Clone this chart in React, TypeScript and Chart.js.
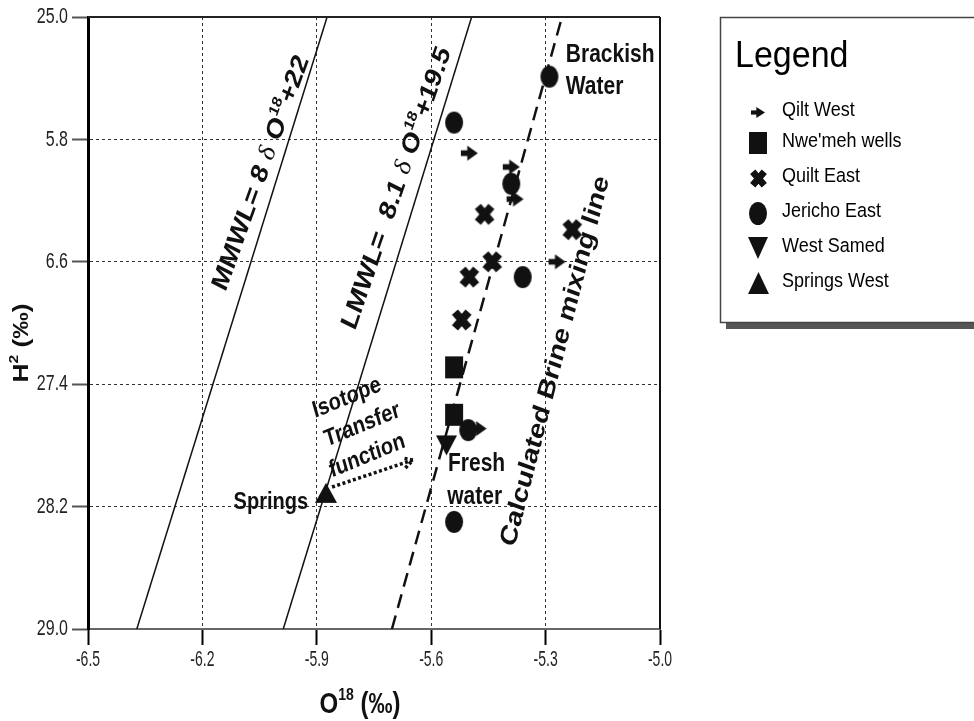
import React, { useEffect, useRef } from 'react';
import { Chart, registerables } from 'chart.js';

Chart.register(...registerables);

// ---------------- data ----------------
const xTickValues = [-6.5, -6.2, -5.9, -5.6, -5.3, -5.0];
const xTickLabels = ['-6.5', '-6.2', '-5.9', '-5.6', '-5.3', '-5.0'];
const yTickValues = [-29.0, -28.2, -27.4, -26.6, -25.8, -25.0];
const yTickLabels = ['29.0', '28.2', '27.4', '6.6', '5.8', '25.0'];

const seriesNames = ['Qilt West', "Nwe'meh wells", 'Quilt East', 'Jericho East', 'West Samed', 'Springs West'];

const qiltWestX = [-5.50, -5.39, -5.38, -5.27, -5.477];
const qiltWestY = [-25.89, -25.98, -26.19, -26.60, -27.69];
const nwemehX = [-5.54, -5.54];
const nwemehY = [-27.29, -27.60];
const quiltEastX = [-5.46, -5.23, -5.44, -5.50, -5.52];
const quiltEastY = [-26.29, -26.39, -26.60, -26.70, -26.98];
const jerichoEastX = [-5.29, -5.54, -5.39, -5.36, -5.503, -5.54];
const jerichoEastY = [-25.39, -25.69, -26.09, -26.70, -27.70, -28.30];
const westSamedX = [-5.56];
const westSamedY = [-27.80];
const springsWestX = [-5.876];
const springsWestY = [-28.11];

const mmwlX = [-6.372, -5.873];
const mmwlY = [-29.0, -25.0];
const lmwlX = [-5.988, -5.494];
const lmwlY = [-29.0, -25.0];
const brineX = [-5.703, -5.257];
const brineY = [-29.0, -25.0];
const transferX = [-5.86, -5.648];
const transferY = [-28.072, -27.895];

// ---------------- helpers ----------------
const F = '"Liberation Sans", Arial, Helvetica, sans-serif';
const SERIF = '"Liberation Serif", "DejaVu Serif", serif';
const INK = '#111';

type Seg = { t: string; font: string; dy?: number };

function drawSegs(
  ctx: CanvasRenderingContext2D,
  segs: Seg[],
  x: number,
  y: number,
  opts: { angle?: number; sy?: number; align?: 'left' | 'center' | 'right'; color?: string } = {}
) {
  const { angle = 0, sy = 1.2, align = 'center', color = INK } = opts;
  ctx.save();
  ctx.translate(x, y);
  ctx.scale(1, sy);
  if (angle) ctx.rotate((angle * Math.PI) / 180);
  ctx.fillStyle = color;
  ctx.textBaseline = 'middle';
  ctx.textAlign = 'left';
  let total = 0;
  for (const s of segs) {
    ctx.font = s.font;
    total += ctx.measureText(s.t).width;
  }
  let cx = align === 'left' ? 0 : align === 'right' ? -total : -total / 2;
  for (const s of segs) {
    ctx.font = s.font;
    ctx.fillText(s.t, cx, s.dy || 0);
    cx += ctx.measureText(s.t).width;
  }
  ctx.restore();
}

function makeMarker(kind: string, w: number, h: number): HTMLCanvasElement {
  const c = document.createElement('canvas');
  c.width = Math.ceil(w) + 2;
  c.height = Math.ceil(h) + 2;
  const g = c.getContext('2d') as CanvasRenderingContext2D;
  g.fillStyle = INK;
  g.strokeStyle = INK;
  g.translate(1, 1);
  switch (kind) {
    case 'circle':
      g.beginPath();
      g.ellipse(w / 2, h / 2, w / 2, h / 2, 0, 0, Math.PI * 2);
      g.fill();
      break;
    case 'square':
      g.fillRect(0, 0, w, h);
      break;
    case 'triUp':
      g.beginPath();
      g.moveTo(w / 2, 0);
      g.lineTo(w, h);
      g.lineTo(0, h);
      g.closePath();
      g.fill();
      break;
    case 'triDown':
      g.beginPath();
      g.moveTo(0, 0);
      g.lineTo(w, 0);
      g.lineTo(w / 2, h);
      g.closePath();
      g.fill();
      break;
    case 'cross': {
      const lw = Math.min(w, h) * 0.4;
      g.lineWidth = lw;
      g.lineCap = 'butt';
      const p = lw * 0.4;
      g.beginPath();
      g.moveTo(p, p);
      g.lineTo(w - p, h - p);
      g.moveTo(w - p, p);
      g.lineTo(p, h - p);
      g.stroke();
      break;
    }
    case 'arrow': {
      const t = h * 0.38;
      g.fillRect(0, h / 2 - t / 2, w * 0.55, t);
      g.beginPath();
      g.moveTo(w * 0.38, 0);
      g.lineTo(w, h / 2);
      g.lineTo(w * 0.38, h);
      g.closePath();
      g.fill();
      break;
    }
  }
  return c;
}

const pts = (xs: number[], ys: number[]) => xs.map((x, i) => ({ x, y: ys[i] }));

// ---------------- plugins ----------------
const annotationsPlugin = {
  id: 'annotations',
  afterDatasetsDraw(chart: any) {
    const ctx: CanvasRenderingContext2D = chart.ctx;
    const xs = chart.scales.x;
    const ys = chart.scales.y;
    const a = chart.chartArea;
    const px = (v: number) => xs.getPixelForValue(v);
    const py = (v: number) => ys.getPixelForValue(v);
    const B = (n: number) => `bold ${n}px ${F}`;

    // frame top / right
    ctx.save();
    ctx.strokeStyle = '#222';
    ctx.lineWidth = 2;
    ctx.beginPath();
    ctx.moveTo(a.left, a.top);
    ctx.lineTo(a.right, a.top);
    ctx.stroke();
    ctx.strokeStyle = INK;
    ctx.beginPath();
    ctx.moveTo(a.right, a.top);
    ctx.lineTo(a.right, a.bottom);
    ctx.stroke();
    ctx.restore();

    // isotope transfer arrow (dotted)
    const x1 = px(transferX[0]), y1 = py(transferY[0]);
    const x2 = px(transferX[1]), y2 = py(transferY[1]);
    ctx.save();
    ctx.strokeStyle = INK;
    ctx.lineWidth = 3.5;
    ctx.setLineDash([3, 2.5]);
    ctx.beginPath();
    ctx.moveTo(x1, y1);
    ctx.lineTo(x2, y2);
    const ang = Math.atan2(y2 - y1, x2 - x1);
    const hl = 11;
    ctx.moveTo(x2 - hl * Math.cos(ang - 0.5), y2 - hl * Math.sin(ang - 0.5));
    ctx.lineTo(x2, y2);
    ctx.lineTo(x2 - hl * Math.cos(ang + 0.5), y2 - hl * Math.sin(ang + 0.5));
    ctx.stroke();
    ctx.restore();

    // equation labels
    drawSegs(
      ctx,
      [
        { t: 'MMWL= 8 ', font: B(24) },
        { t: 'δ', font: `24px ${SERIF}` },
        { t: ' O', font: B(24) },
        { t: '18', font: B(14), dy: -8 },
        { t: '+22', font: B(24) },
      ],
      px(-6.046), py(-26.02), { angle: -66.7 }
    );
    drawSegs(
      ctx,
      [
        { t: 'LMWL=  8.1 ', font: B(24) },
        { t: 'δ', font: `24px ${SERIF}` },
        { t: ' O', font: B(24) },
        { t: '18', font: B(14), dy: -8 },
        { t: '+19.5', font: B(24) },
      ],
      px(-5.69), py(-26.12), { angle: -67.6 }
    );
    drawSegs(ctx, [{ t: 'Calculated Brine mixing line', font: B(24) }], px(-5.274), py(-27.25), { angle: -72.9 });

    drawSegs(ctx, [{ t: 'Isotope', font: B(20) }], px(-5.821), py(-27.49), { angle: -19 });
    drawSegs(ctx, [{ t: 'Transfer', font: B(20) }], px(-5.781), py(-27.667), { angle: -19 });
    drawSegs(ctx, [{ t: 'function', font: B(20) }], px(-5.768), py(-27.869), { angle: -19 });

    drawSegs(ctx, [{ t: 'Brackish', font: B(21) }], px(-5.247), py(-25.248), { align: 'left' });
    drawSegs(ctx, [{ t: 'Water', font: B(21) }], px(-5.247), py(-25.458), { align: 'left' });
    drawSegs(ctx, [{ t: 'Fresh', font: B(21) }], px(-5.556), py(-27.92), { align: 'left' });
    drawSegs(ctx, [{ t: 'water', font: B(21) }], px(-5.558), py(-28.137), { align: 'left' });
    drawSegs(ctx, [{ t: 'Springs', font: B(20) }], px(-5.923), py(-28.17), { align: 'right' });
  },
  afterDraw(chart: any) {
    const ctx: CanvasRenderingContext2D = chart.ctx;
    const xs = chart.scales.x;
    const ys = chart.scales.y;
    const a = chart.chartArea;

    // tick labels
    yTickValues.forEach((v, i) => {
      drawSegs(ctx, [{ t: yTickLabels[i], font: `16px ${F}` }], a.left - 20, ys.getPixelForValue(v), {
        sy: 1.4,
        align: 'right',
        color: '#222',
      });
    });
    xTickValues.forEach((v, i) => {
      drawSegs(ctx, [{ t: xTickLabels[i], font: `14px ${F}` }], xs.getPixelForValue(v), a.bottom + 31, {
        sy: 1.6,
        color: '#222',
      });
    });

    // axis titles
    drawSegs(
      ctx,
      [
        { t: 'O', font: `bold 24px ${F}` },
        { t: '18', font: `bold 14px ${F}`, dy: -8 },
        { t: ' (‰)', font: `bold 24px ${F}` },
      ],
      a.left + 272, a.bottom + 76
    );
    drawSegs(
      ctx,
      [
        { t: 'H', font: `bold 22px ${F}` },
        { t: '2', font: `bold 13px ${F}`, dy: -8 },
        { t: ' (‰)', font: `bold 22px ${F}` },
      ],
      22, 343, { angle: -90 }
    );

    // legend
    const lx = 720, ly = 17, lw = 270, lh = 305;
    ctx.save();
    ctx.fillStyle = '#555';
    ctx.fillRect(lx + 6, ly + lh, lw, 7);
    ctx.fillStyle = '#fff';
    ctx.fillRect(lx, ly, lw, lh);
    ctx.strokeStyle = '#444';
    ctx.lineWidth = 1.5;
    ctx.strokeRect(lx + 0.5, ly + 0.5, lw, lh);
    ctx.restore();
    drawSegs(ctx, [{ t: 'Legend', font: `34px ${F}` }], 735, 57, { sy: 1.1, align: 'left', color: '#000' });
    const rows = [110, 141, 176, 211, 246, 281];
    let r = 0;
    chart.data.datasets.forEach((ds: any) => {
      if (!ds.legendMarker) return;
      const yRow = rows[r++];
      const m: HTMLCanvasElement = ds.legendMarker;
      ctx.drawImage(m, Math.round(758 - m.width / 2), Math.round(yRow + 2 - m.height / 2));
      drawSegs(ctx, [{ t: ds.label, font: `18px ${F}` }], 782, yRow, { sy: 1.15, align: 'left', color: '#000' });
    });
  },
};

// ---------------- component ----------------
export default function App() {
  const ref = useRef<HTMLCanvasElement>(null);

  useEffect(() => {
    document.body.style.margin = '0';
    const canvas = ref.current as HTMLCanvasElement;

    const plotMarkers = [
      makeMarker('arrow', 17, 15),
      makeMarker('square', 18, 22),
      makeMarker('cross', 20, 22),
      makeMarker('circle', 18, 22),
      makeMarker('triDown', 21, 20),
      makeMarker('triUp', 22, 20),
    ];
    const legendMarkers = [
      makeMarker('arrow', 14, 11),
      makeMarker('square', 18, 22),
      makeMarker('cross', 17, 19),
      makeMarker('circle', 18, 23),
      makeMarker('triDown', 20, 22),
      makeMarker('triUp', 21, 22),
    ];
    const seriesData = [
      pts(qiltWestX, qiltWestY),
      pts(nwemehX, nwemehY),
      pts(quiltEastX, quiltEastY),
      pts(jerichoEastX, jerichoEastY),
      pts(westSamedX, westSamedY),
      pts(springsWestX, springsWestY),
    ];

    const markerSets: any[] = seriesNames.map((name, i) => ({
      label: name,
      data: seriesData[i],
      pointStyle: plotMarkers[i],
      legendMarker: legendMarkers[i],
      pointRadius: 11,
      showLine: false,
      borderColor: INK,
      backgroundColor: INK,
    }));

    const lineSets: any[] = [
      { label: 'MMWL', data: pts(mmwlX, mmwlY), showLine: true, pointRadius: 0, borderColor: INK, borderWidth: 1.5 },
      { label: 'LMWL', data: pts(lmwlX, lmwlY), showLine: true, pointRadius: 0, borderColor: INK, borderWidth: 1.5 },
      {
        label: 'Brine mixing',
        data: pts(brineX, brineY),
        showLine: true,
        pointRadius: 0,
        borderColor: INK,
        borderWidth: 2.5,
        borderDash: [14, 8],
      },
    ];

    const gridColor = (n: number) => (c: any) =>
      c.index === 0 || c.index === n - 1 ? 'rgba(0,0,0,0)' : '#333';

    const chart = new Chart(canvas, {
      type: 'scatter',
      data: { datasets: [...markerSets, ...lineSets] },
      options: {
        responsive: false,
        animation: false,
        events: [],
        layout: { padding: { left: 0, top: 17, right: 314, bottom: 0 } },
        plugins: { legend: { display: false }, tooltip: { enabled: false } },
        scales: {
          x: {
            type: 'linear',
            min: -6.5,
            max: -5.0,
            afterBuildTicks: (s: any) => {
              s.ticks = xTickValues.map((v) => ({ value: v }));
            },
            afterFit: (s: any) => {
              s.height = 92;
            },
            ticks: { display: false },
            grid: {
              color: gridColor(xTickValues.length),
              lineWidth: 1,
              tickLength: 16,
              tickWidth: 2,
              tickColor: '#000',
            },
            border: { display: true, color: '#666', width: 2, dash: [3, 3] },
          },
          y: {
            type: 'linear',
            min: -29.0,
            max: -25.0,
            afterBuildTicks: (s: any) => {
              s.ticks = yTickValues.map((v) => ({ value: v }));
            },
            afterFit: (s: any) => {
              s.width = 88;
            },
            ticks: { display: false },
            grid: {
              color: gridColor(yTickValues.length),
              lineWidth: 1,
              tickLength: 16,
              tickWidth: 2,
              tickColor: '#555',
            },
            border: { display: true, color: '#000', width: 3, dash: [3, 3] },
          },
        },
      } as any,
      plugins: [annotationsPlugin],
    });

    return () => chart.destroy();
  }, []);

  return (
    <div style={{ width: 974, height: 721, position: 'relative', background: '#fff' }}>
      <canvas ref={ref} width={974} height={721} style={{ display: 'block' }} />
    </div>
  );
}
